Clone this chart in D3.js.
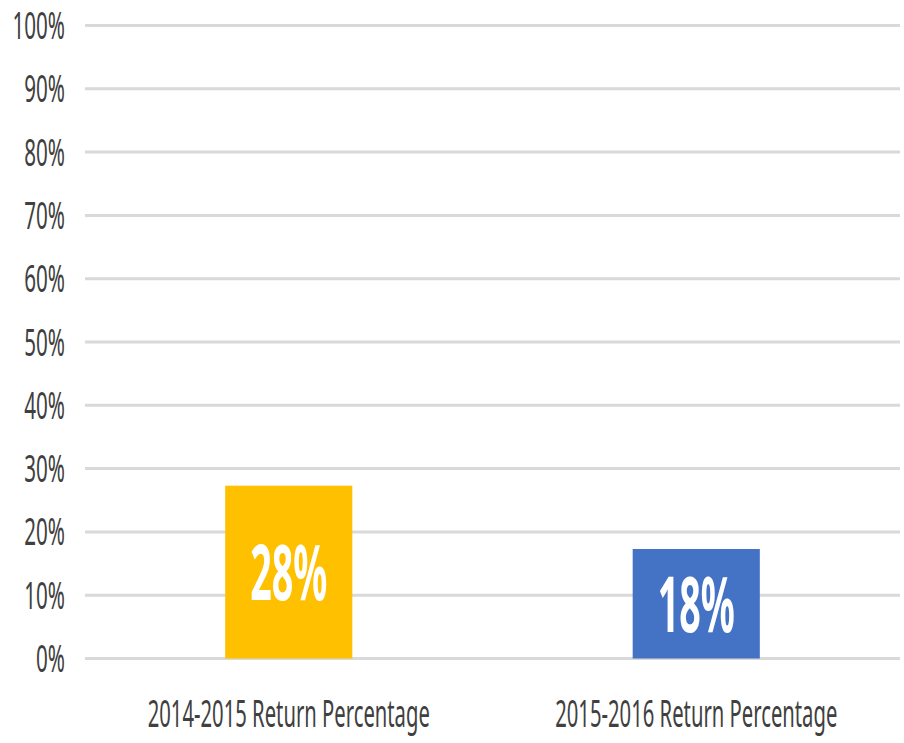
<!DOCTYPE html>
<html>
<head>
<meta charset="utf-8">
<script src="https://cdn.jsdelivr.net/npm/d3@7"></script>
<style>
  html, body { margin: 0; padding: 0; background: #fff; }
  svg { display: block; }
  text { font-family: "Noto Sans", "Open Sans", sans-serif; }
</style>
</head>
<body>
<svg id="chart" width="904" height="743"></svg>
<script>
const categories = ["2014-2015 Return Percentage", "2015-2016 Return Percentage"];
const values = [0.273, 0.173];
const barLabels = ["28%", "18%"];
const colors = ["#FFC000", "#4472C4"];
const yTicks = [0, 0.1, 0.2, 0.3, 0.4, 0.5, 0.6, 0.7, 0.8, 0.9, 1.0];

const W = 904, H = 743;
const plot = { left: 85, right: 900, top: 25.5, bottom: 658.5 };

const svg = d3.select("#chart");

const x = d3.scaleBand().domain(categories).range([plot.left, plot.right]).padding(0);
const y = d3.scaleLinear().domain([0, 1]).range([plot.bottom, plot.top]);
const barW = x.bandwidth() * 0.312;

// gridlines
svg.append("g").selectAll("line").data(yTicks).join("line")
  .attr("x1", plot.left).attr("x2", plot.right)
  .attr("y1", d => y(d)).attr("y2", d => y(d))
  .attr("stroke", "#D9D9D9").attr("stroke-width", 3);

// y tick labels
const fmt = d3.format(".0%");
svg.append("g").selectAll("text").data(yTicks).join("text")
  .attr("transform", d => `translate(65,${y(d) + 13.5}) scale(0.55,1)`)
  .attr("text-anchor", "end")
  .attr("font-size", 37.5)
  .attr("fill", "#404040")
  .text(d => fmt(d));

// bars
svg.append("g").selectAll("rect").data(values).join("rect")
  .attr("x", (d, i) => x(categories[i]) + x.bandwidth() / 2 - barW / 2)
  .attr("width", barW)
  .attr("y", d => y(d))
  .attr("height", d => y(0) - y(d))
  .attr("fill", (d, i) => colors[i]);

// bar labels
svg.append("g").selectAll("text").data(values).join("text")
  .attr("transform", (d, i) => `translate(${x(categories[i]) + x.bandwidth() / 2},${(y(d) + y(0)) / 2 + 28}) scale(0.49,1)`)
  .attr("text-anchor", "middle")
  .attr("font-size", 77)
  .attr("font-weight", "bold")
  .attr("fill", "#FFFFFF")
  .text((d, i) => barLabels[i]);

// category labels
svg.append("g").selectAll("text").data(categories).join("text")
  .attr("transform", d => `translate(${x(d) + x.bandwidth() / 2},727) scale(0.54,1)`)
  .attr("text-anchor", "middle")
  .attr("font-size", 37.5)
  .attr("fill", "#404040")
  .text(d => d);
</script>
</body>
</html>
